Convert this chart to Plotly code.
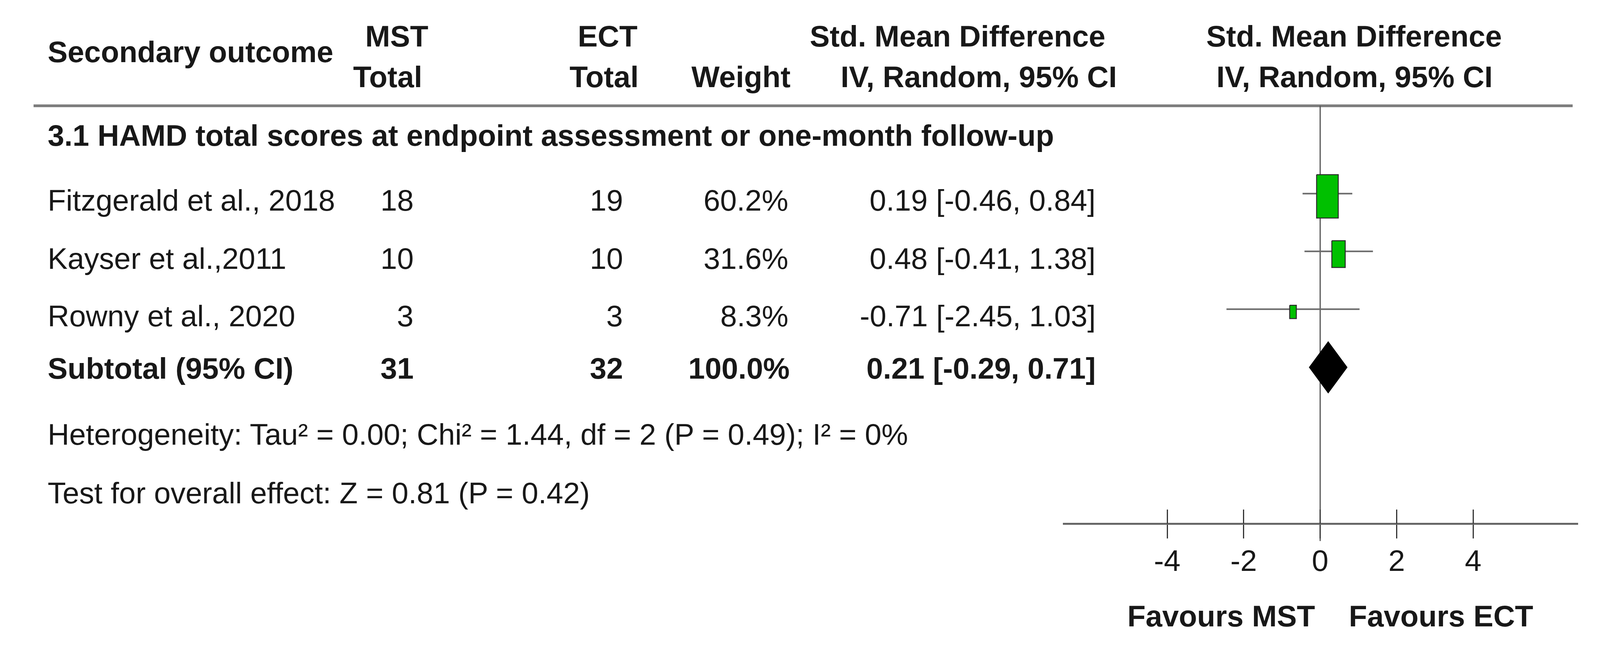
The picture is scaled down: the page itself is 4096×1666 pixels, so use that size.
import plotly.graph_objects as go

# ---------------- data ----------------
studies = ["Fitzgerald et al., 2018", "Kayser et al.,2011", "Rowny et al., 2020"]
mst_total = [18, 10, 3]
ect_total = [19, 10, 3]
weights = [60.2, 31.6, 8.3]
smd = [0.19, 0.48, -0.71]
ci_low = [-0.46, -0.41, -2.45]
ci_high = [0.84, 1.38, 1.03]

sub_label = "Subtotal (95% CI)"
sub_mst = 31
sub_ect = 32
sub_weight = 100.0
sub_smd = 0.21
sub_low = -0.29
sub_high = 0.71

group_title = "3.1 HAMD total scores at endpoint assessment or one-month follow-up"
heterogeneity = "Heterogeneity: Tau² = 0.00; Chi² = 1.44, df = 2 (P = 0.49); I² = 0%"
overall_effect = "Test for overall effect: Z = 0.81 (P = 0.42)"

tick_vals = [-4, -2, 0, 2, 4]
tick_text = ["-4", "-2", "0", "2", "4"]
favours_left = "Favours MST"
favours_right = "Favours ECT"

# ---------------- layout constants (reference pixels) ----------------
S = 0.999
W, H = 4096, 1666
FS = 76.6 * S
FONT = "Liberation Sans"
TXT = "#181818"
DX, DY = -5, -6   # global text nudge

ZERO_PX = 3375.0
PX_PER_UNIT = 98.0
AX_L, AX_R = 2716.0, 4036.0
AXIS_Y = 1333.0

ROW_Y = [511.5, 660.0, 807.0]
CI_Y = [488.0, 636.0, 784.0]
SUB_Y = 941.0
DIAMOND_Y = 933.0
DIAMOND_HALF = 66.5


def xp(px):
    return px * S / W


def fx(v, dec=2):
    return f"{v:.{dec}f}"


def ci_str(e, lo, hi):
    return f"{fx(e)} [{fx(lo)}, {fx(hi)}]"


annotations = []


def txt(s, x, y, anchor="left", bold=False, size=FS):
    if bold:
        s = "<b>" + s + "</b>"
    annotations.append(dict(
        text=s, x=xp(x + DX), y=y + DY, xref="paper", yref="y",
        xanchor=anchor, yanchor="middle", showarrow=False,
        borderpad=0,
        font=dict(family=FONT, size=size, color=TXT),
    ))


# header
txt("Secondary outcome", 118, 131, bold=True)
txt("MST", 932, 91, bold=True)
txt("Total", 901, 194.5, bold=True)
txt("ECT", 1476, 91, bold=True)
txt("Total", 1455, 194.5, bold=True)
txt("Weight", 2024, 194.5, anchor="right", bold=True)
txt("Std. Mean Difference", 2071, 91, bold=True)
txt("IV, Random, 95% CI", 2150, 194.5, bold=True)
txt("Std. Mean Difference", 3087, 91, bold=True)
txt("IV, Random, 95% CI", 3113, 194.5, bold=True)

txt(group_title, 118, 345, bold=True)

for i, name in enumerate(studies):
    y = ROW_Y[i]
    txt(name, 118, y)
    txt(str(mst_total[i]), 1058, y, anchor="right")
    txt(str(ect_total[i]), 1595, y, anchor="right")
    txt(f"{weights[i]:.1f}%", 2018, y, anchor="right")
    txt(ci_str(smd[i], ci_low[i], ci_high[i]), 2806, y, anchor="right")

txt(sub_label, 118, SUB_Y, bold=True)
txt(str(sub_mst), 1058, SUB_Y, anchor="right", bold=True)
txt(str(sub_ect), 1595, SUB_Y, anchor="right", bold=True)
txt(f"{sub_weight:.1f}%", 2022, SUB_Y, anchor="right", bold=True)
txt(ci_str(sub_smd, sub_low, sub_high), 2806, SUB_Y, anchor="right", bold=True)

txt(heterogeneity, 118, 1111)
txt(overall_effect, 118, 1261)

txt(favours_left, 3367, 1576, anchor="right", bold=True)
txt(favours_right, 3452, 1576, bold=True)

# ---------------- traces ----------------
fig = go.Figure()

# confidence-interval lines
for i in range(len(studies)):
    fig.add_trace(go.Scatter(
        x=[ci_low[i], ci_high[i]], y=[CI_Y[i], CI_Y[i]],
        mode="lines", line=dict(color="#6a6a6a", width=4 * S),
        hoverinfo="skip", showlegend=False,
    ))

# weight boxes (height grows with weight, width = half height)
for i in range(len(studies)):
    h = 21.7 + 1.484 * weights[i]
    hw = (h / 2) / 2 / PX_PER_UNIT
    yc = CI_Y[i] + 7
    x0, x1 = smd[i] - hw, smd[i] + hw
    fig.add_trace(go.Scatter(
        x=[x0, x1, x1, x0, x0],
        y=[yc - h / 2, yc - h / 2, yc + h / 2, yc + h / 2, yc - h / 2],
        mode="lines", fill="toself", fillcolor="#00c000",
        line=dict(color="#2b2b2b", width=2.5 * S),
        hoverinfo="skip", showlegend=False,
    ))

# subtotal diamond
fig.add_trace(go.Scatter(
    x=[sub_low, sub_smd, sub_high, sub_smd, sub_low],
    y=[DIAMOND_Y, DIAMOND_Y - DIAMOND_HALF, DIAMOND_Y, DIAMOND_Y + DIAMOND_HALF, DIAMOND_Y],
    mode="lines", fill="toself", fillcolor="#000000",
    line=dict(color="#000000", width=1),
    hoverinfo="skip", showlegend=False,
))

# helper trace so the upper-tick axis is rendered
fig.add_trace(go.Scatter(
    x=tick_vals, y=[AXIS_Y] * len(tick_vals), xaxis="x2",
    mode="markers", marker=dict(opacity=0), hoverinfo="skip", showlegend=False,
))

shapes = [
    # header rule
    dict(type="line", xref="paper", yref="y", x0=xp(78), x1=xp(4022), y0=263, y1=263,
         line=dict(color="#7c7c7c", width=7 * S), layer="below"),
    # line of no effect
    dict(type="line", xref="x", yref="y", x0=0, x1=0, y0=263, y1=1378,
         line=dict(color="#555555", width=3 * S), layer="below"),
]

pos = 1 - AXIS_Y * S / H
xrange = [(AX_L - ZERO_PX) / PX_PER_UNIT, (AX_R - ZERO_PX) / PX_PER_UNIT]
dom = [xp(AX_L), xp(AX_R)]

fig.update_layout(
    width=W, height=H,
    margin=dict(l=0, r=0, t=0, b=0),
    paper_bgcolor="white", plot_bgcolor="rgba(0,0,0,0)",
    showlegend=False,
    annotations=annotations,
    shapes=shapes,
    xaxis=dict(
        domain=dom, range=xrange, anchor="free", position=pos,
        showline=True, linecolor="#666666", linewidth=5 * S,
        ticks="outside", ticklen=35 * S, tickwidth=3 * S, tickcolor="#333333",
        tickvals=tick_vals, ticktext=tick_text,
        tickfont=dict(family=FONT, size=FS, color=TXT),
        ticklabelstandoff=-8,
        showgrid=False, zeroline=False, fixedrange=True,
    ),
    xaxis2=dict(
        domain=dom, range=xrange, anchor="free", position=pos, overlaying="x",
        side="top", showline=False,
        ticks="outside", ticklen=36 * S, tickwidth=3 * S, tickcolor="#333333",
        tickvals=tick_vals, showticklabels=False,
        showgrid=False, zeroline=False, fixedrange=True,
    ),
    yaxis=dict(domain=[0, 1], range=[H / S, 0], visible=False, fixedrange=True),
)

fig.write_html("out.html")
